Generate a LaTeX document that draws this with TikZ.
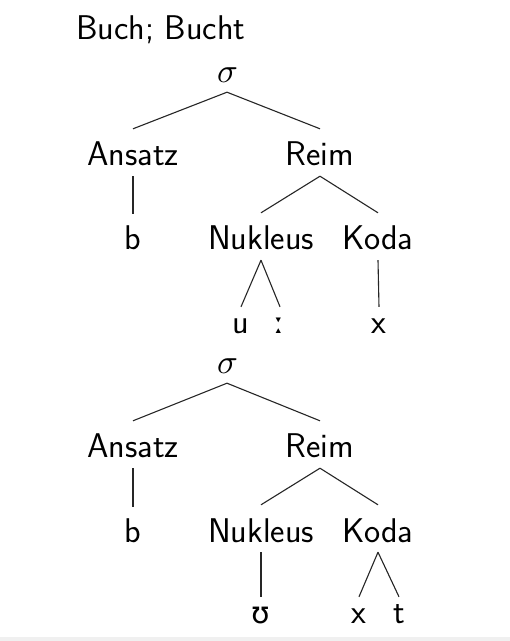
\documentclass[tikz,border=0pt]{standalone}
\usepackage{fontspec}
\newfontfamily\ipafont{DejaVu Sans}
\newfontfamily\mgreek{Latin Modern Math}
\begin{document}
\begin{tikzpicture}[x=1pt,y=-1pt,
  base/.style={font=\fontsize{34.3}{40}\selectfont\sffamily, inner sep=0pt, anchor=base},
  topn/.style={base, font=\fontsize{34.3}{40}\selectfont\mgreek, text height=14pt, text depth=10pt},
  midn/.style={base, text height=36pt, text depth=11pt},
  leafn/.style={base, text height=35pt, text depth=0pt},
  segn/.style={base, text height=26pt, text depth=0pt},
  ipa/.style={font=\fontsize{30}{34}\selectfont\ipafont},
  br/.style={line width=1.1pt, draw=black!85}]
\fill[white] (0,0) rectangle (510,641);
\fill[black!6] (0,637) rectangle (510,641);
\useasboundingbox (0,0) rectangle (510,641);

\node[base] (title) at (76,39) [anchor=base west] {Buch; Bucht};

% Tree 1
\node[topn] (s1) at (227,82) {𝜎};
\node[midn] (a1) at (133,165) {Ansatz};
\node[midn] (r1) at (320,165) {Reim};
\node[leafn] (b1) at (133,249) {b};
\node[midn] (n1) at (261,249) {Nukleus};
\node[midn] (k1) at (378,249) {Koda};
\node[segn] (u1) at (241,333) {u};
\node[segn, ipa] (l1) at (280,333) {ː};
\node[segn] (x1) at (379,333) {x};

\draw[br] (s1.south) -- (a1.north);
\draw[br] (s1.south) -- (r1.north);
\draw[br] (a1.south) -- (b1.north);
\draw[br] (r1.south) -- (n1.north);
\draw[br] (r1.south) -- (k1.north);
\draw[br] (n1.south) -- (u1.north);
\draw[br] (n1.south) -- (l1.north);
\draw[br] (k1.south) -- (x1.north);

% Tree 2
\node[topn] (s2) at (227,373) {𝜎};
\node[midn] (a2) at (133,457) {Ansatz};
\node[midn] (r2) at (320,457) {Reim};
\node[leafn] (b2) at (133,542) {b};
\node[midn, text height=37pt, text depth=10pt] (n2) at (261,542) {Nukleus};
\node[midn, text height=37pt, text depth=10pt] (k2) at (378,542) {Koda};
\node[segn, ipa] (u2) at (261,623) {ʊ};
\node[segn] (x2) at (359,623) {x};
\node[segn] (t2) at (399,623) {t};

\draw[br] (s2.south) -- (a2.north);
\draw[br] (s2.south) -- (r2.north);
\draw[br] (a2.south) -- (b2.north);
\draw[br] (r2.south) -- (n2.north);
\draw[br] (r2.south) -- (k2.north);
\draw[br] (n2.south) -- (u2.north);
\draw[br] (k2.south) -- (x2.north);
\draw[br] (k2.south) -- (t2.north);
\end{tikzpicture}
\end{document}
